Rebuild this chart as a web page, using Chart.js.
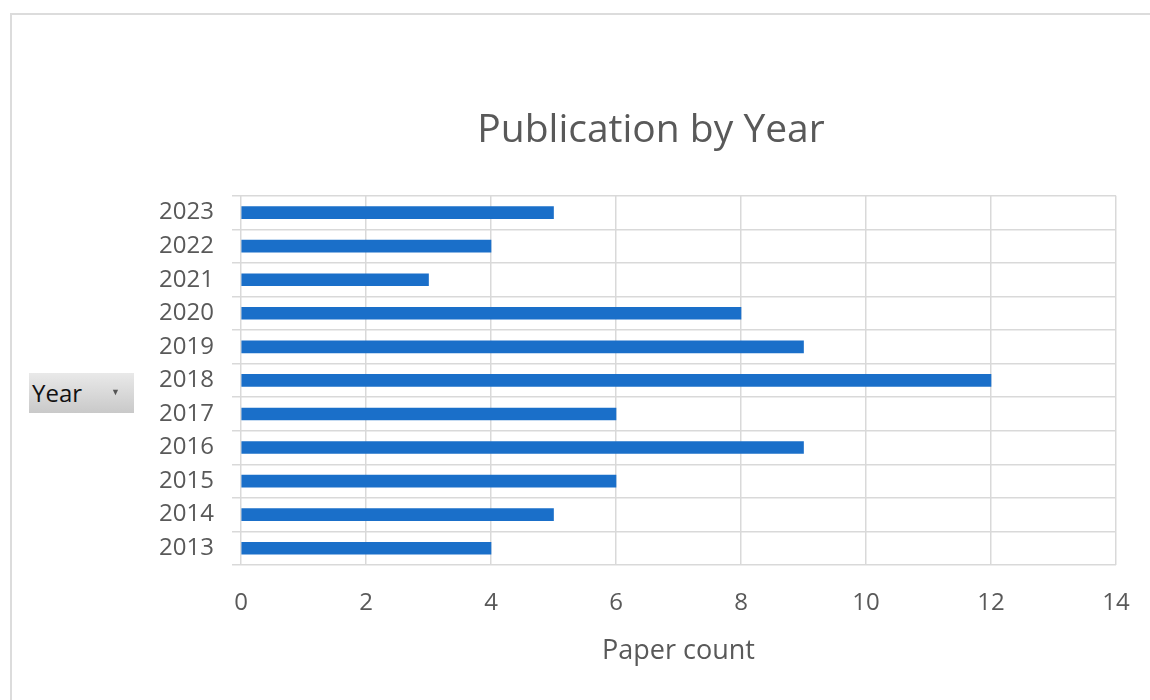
<!DOCTYPE html>
<html>
<head>
<meta charset="utf-8">
<script src="https://cdn.jsdelivr.net/npm/chart.js@4/dist/chart.umd.min.js"></script>
<style>
    html, body { margin: 0; padding: 0; background: #fff; overflow: hidden; }
    #cadre {
        position: absolute; left: 10px; top: 13px; width: 1200px; height: 760px;
        border: 2px solid #dcdcdc; box-sizing: border-box;
    }
    #zone { position: absolute; left: 0; top: 0; width: 1150px; height: 700px; }
    #bouton-annee {
        position: absolute; left: 29px; top: 373px; width: 105px; height: 40px;
        background: linear-gradient(#e9e9e9, #c9c9c9);
        font-family: "Open Sans", sans-serif; font-size: 24px; color: #111;
        line-height: 40px; padding-left: 3px; box-sizing: border-box;
    }
    #bouton-annee span { position: absolute; left: 82px; top: -1px; font-size: 9px; color: #555; }
</style>
</head>
<body>
<div id="cadre"></div>
<div id="zone"><canvas id="graphique-publications" width="1150" height="700"></canvas></div>
<div id="bouton-annee">Year<span>▼</span></div>
<script>
const annees = ['2013', '2014', '2015', '2016', '2017', '2018', '2019', '2020', '2021', '2022', '2023'];
const articles = [4, 5, 6, 9, 6, 12, 9, 8, 3, 4, 5];
const graduations = [0, 2, 4, 6, 8, 10, 12, 14];

const police = '"Open Sans", sans-serif';
const gris = '#595959';

new Chart(document.getElementById('graphique-publications'), {
    type: 'bar',
    data: {
        labels: annees,
        datasets: [{
            label: 'Paper count',
            data: articles,
            backgroundColor: '#1a6fc9',
            barThickness: 12
        }]
    },
    options: {
        indexAxis: 'y',
        responsive: false,
        animation: false,
        layout: {
            padding: { left: 152, right: 0, top: 0, bottom: 0 }
        },
        plugins: {
            legend: { display: false },
            tooltip: { enabled: false },
            title: {
                display: true,
                text: 'Publication by Year',
                color: gris,
                font: { family: police, size: 39, weight: 'normal' },
                padding: { top: 107, bottom: 42 }
            }
        },
        scales: {
            x: {
                min: 0,
                max: 14,
                afterBuildTicks: (echelle) => {
                    echelle.ticks = graduations.map(v => ({ value: v }));
                },
                afterFit: (echelle) => {
                    echelle.height = 135;
                    echelle.paddingRight = 34;
                },
                grid: { color: '#d9d9d9', lineWidth: 1.5, drawTicks: false },
                border: { display: false },
                ticks: {
                    color: gris,
                    font: { family: police, size: 24 },
                    padding: 24
                },
                title: {
                    display: true,
                    text: 'Paper count',
                    color: gris,
                    font: { family: police, size: 27 },
                    padding: { top: 0, bottom: 32 }
                }
            },
            y: {
                reverse: true,
                afterFit: (echelle) => { echelle.width = 89; },
                grid: { color: '#d9d9d9', lineWidth: 1.5, offset: true, tickLength: 9 },
                border: { display: false },
                ticks: {
                    color: gris,
                    font: { family: police, size: 24 },
                    padding: 18
                }
            }
        }
    }
});
</script>
</body>
</html>
